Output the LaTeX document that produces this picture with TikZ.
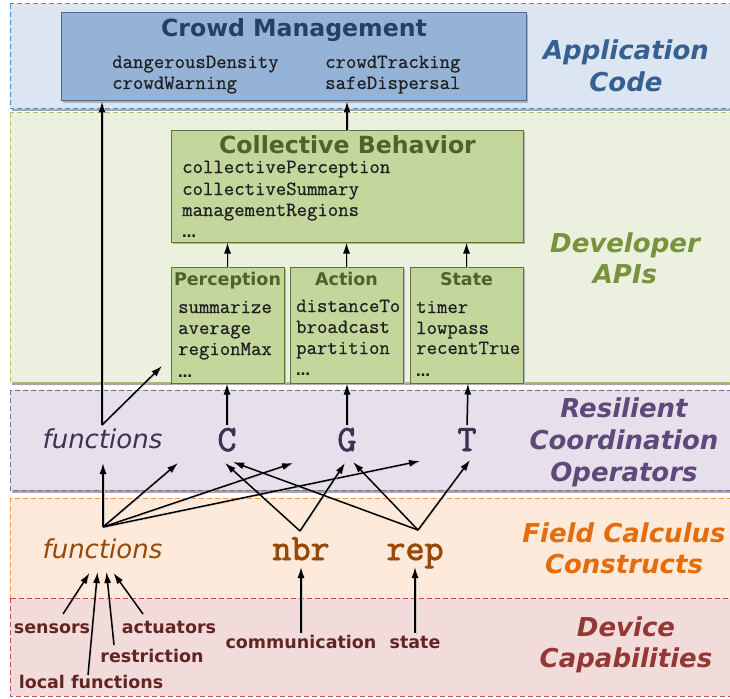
\documentclass[tikz,border=0pt]{standalone}
\usepackage{fontspec}
\setmainfont{DejaVu Sans}
\newfontfamily\opfont{Latin Modern Mono}[FakeBold=2.2]
\newfontfamily\itemfont{Latin Modern Mono}[FakeBold=0.6]
\usetikzlibrary{arrows.meta,calc}
\definecolor{appFill}{HTML}{DCE6F2}
\definecolor{appLine}{HTML}{558ED5}
\definecolor{appText}{HTML}{376092}
\definecolor{devFill}{HTML}{EBF1DE}
\definecolor{devLine}{HTML}{A9C46A}
\definecolor{devText}{HTML}{77933C}
\definecolor{resFill}{HTML}{E5E0EC}
\definecolor{resLine}{HTML}{8064A2}
\definecolor{resText}{HTML}{5F497A}
\definecolor{resDark}{HTML}{403152}
\definecolor{fcFill}{HTML}{FDEADA}
\definecolor{fcLine}{HTML}{F79646}
\definecolor{fcText}{HTML}{E46C0A}
\definecolor{fcDark}{HTML}{984807}
\definecolor{dvFill}{HTML}{F2DCDB}
\definecolor{dvLine}{HTML}{C0504D}
\definecolor{dvText}{HTML}{953735}
\definecolor{dvDark}{HTML}{632523}
\definecolor{crowdFill}{HTML}{95B3D7}
\definecolor{crowdLine}{HTML}{4A6890}
\definecolor{crowdText}{HTML}{254061}
\definecolor{grFill}{HTML}{C3D69B}
\definecolor{grLine}{HTML}{5E7535}
\definecolor{grText}{HTML}{4F6228}
\tikzset{
  bandbox/.style={line width=1pt, dash pattern=on 5pt off 3pt},
  bandshadow/.style={fill=black!35, draw=none},
  boxshape/.style={draw, line width=1pt, inner sep=0pt, rectangle},
  boxshadow/.style={fill=black!30, draw=none},
  bigtitle/.style={font=\bfseries\fontsize{23.6}{28}\selectfont, anchor=base, inner sep=0pt},
  smalltitle/.style={font=\bfseries\fontsize{17.5}{21}\selectfont, text=grText, anchor=base, inner sep=0pt},
  mono/.style={font=\itemfont\fontsize{20.2}{21}\selectfont, anchor=base west, inner sep=0pt, text=black!88},
  dots/.style={font=\bfseries\fontsize{14}{14}\selectfont, anchor=base west, inner sep=0pt, text=black!88},
  sidelabel/.style={font=\bfseries\itshape\fontsize{26}{32}\selectfont, anchor=base, inner sep=0pt},
  fnlabel/.style={font=\itshape\fontsize{26}{32}\selectfont, anchor=base, inner sep=0pt},
  oplabel/.style={font=\opfont\fontsize{37}{40}\selectfont, anchor=base, inner sep=0pt},
  caplabel/.style={font=\bfseries\fontsize{17.5}{21}\selectfont, text=dvDark, anchor=base, inner sep=0pt},
  arr/.style={-{Latex[length=11pt,width=7pt]}, line width=1.5pt,
    preaction={draw=black!22, transform canvas={shift={(1pt,-1pt)}}}},
}
\begin{document}
\begin{tikzpicture}[x=1pt,y=-1pt]
\useasboundingbox (0,0) rectangle (730,698);
% bands
\fill[bandshadow] (12,6) rectangle (737,111);
\filldraw[bandbox, fill=appFill, draw=appLine] (10,4) rectangle (735,109);
\fill[bandshadow] (12,115) rectangle (737,385);
\filldraw[bandbox, fill=devFill, draw=devLine] (10,113) rectangle (735,382);
\fill[bandshadow] (12,392) rectangle (737,493);
\filldraw[bandbox, fill=resFill, draw=resLine] (10,390) rectangle (735,490);
\filldraw[bandbox, fill=fcFill, draw=fcLine] (10,498) rectangle (735,598);
\filldraw[bandbox, fill=dvFill, draw=dvLine] (10,598) rectangle (735,696);

% side labels
\node[sidelabel, text=appText] (appL1) at (626,60) {Application};
\node[sidelabel, text=appText] (appL2) at (626,92) {Code};
\node[sidelabel, text=devText] (devL1) at (625,252) {Developer};
\node[sidelabel, text=devText] (devL2) at (625,283) {APIs};
\node[sidelabel, text=resText] (resL1) at (624,417) {Resilient};
\node[sidelabel, text=resText] (resL2) at (624,449) {Coordination};
\node[sidelabel, text=resText] (resL3) at (624,481) {Operators};
\node[sidelabel, text=fcText] (fcL1) at (624,542) {Field Calculus};
\node[sidelabel, text=fcText] (fcL2) at (624,573) {Constructs};
\node[sidelabel, text=dvText] (dvL1) at (626,636) {Device};
\node[sidelabel, text=dvText] (dvL2) at (626,667) {Capabilities};

% Crowd Management box
\fill[boxshadow] (63,15) rectangle (528,103);
\node[boxshape, fill=crowdFill, draw=crowdLine, minimum width=465pt, minimum height=88pt] (crowd) at (293.5,57) {};
\node[bigtitle, text=crowdText] (crowdT) at (294,37) {Crowd Management};
\node[mono] (cm1) at (112,68) {dangerousDensity};
\node[mono] (cm2) at (112,89) {crowdWarning};
\node[mono] (cm3) at (325,68) {crowdTracking};
\node[mono] (cm4) at (325,89) {safeDispersal};

% Collective Behavior box
\fill[boxshadow] (173,132) rectangle (525,244);
\node[boxshape, fill=grFill, draw=grLine, minimum width=352pt, minimum height=112pt] (cb) at (347,186) {};
\node[bigtitle, text=grText] (cbT) at (347.5,153) {Collective Behavior};
\node[mono] (cb1) at (182,173) {collectivePerception};
\node[mono] (cb2) at (182,195) {collectiveSummary};
\node[mono] (cb3) at (182,216) {managementRegions};
\node[dots] (cb4) at (182,237) {…};

% Perception / Action / State boxes
\fill[boxshadow] (173,269) rectangle (286,385);
\node[boxshape, fill=grFill, draw=grLine, minimum width=113pt, minimum height=116pt] (perc) at (227.5,325) {};
\fill[boxshadow] (292,269) rectangle (405,385);
\node[boxshape, fill=grFill, draw=grLine, minimum width=113pt, minimum height=116pt] (act) at (346.5,325) {};
\fill[boxshadow] (412,269) rectangle (525,385);
\node[boxshape, fill=grFill, draw=grLine, minimum width=113pt, minimum height=116pt] (state) at (466.5,325) {};
\node[smalltitle] (percT) at (227.5,285) {Perception};
\node[smalltitle] (actT) at (346.5,285) {Action};
\node[smalltitle] (stateT) at (466.5,285) {State};
\node[mono] (p1) at (178,313) {summarize};
\node[mono] (p2) at (178,334) {average};
\node[mono] (p3) at (178,355) {regionMax};
\node[dots] (p4) at (178,377) {…};
\node[mono] (a1) at (296,312) {distanceTo};
\node[mono] (a2) at (296,333) {broadcast};
\node[mono] (a3) at (296,354) {partition};
\node[dots] (a4) at (296,375) {…};
\node[mono] (s1) at (416,313) {timer};
\node[mono] (s2) at (416,334) {lowpass};
\node[mono] (s3) at (416,354) {recentTrue};
\node[dots] (s4) at (416,376) {…};

% Resilient coordination operators
\node[fnlabel, text=resDark] (fnR) at (102.5,448) {functions};
\node[oplabel, text=resDark] (opC) at (227,451) {C};
\node[oplabel, text=resDark] (opG) at (347,451) {G};
\node[oplabel, text=resDark] (opT) at (467,451) {T};

% Field calculus constructs
\node[fnlabel, text=fcDark] (fnF) at (102.5,558) {functions};
\node[oplabel, text=fcDark] (nbr) at (301,560) {nbr};
\node[oplabel, text=fcDark] (rep) at (415,560) {rep};

% Device capabilities
\node[caplabel] (sens) at (52,633) {sensors};
\node[caplabel] (actu) at (169,633) {actuators};
\node[caplabel] (restr) at (152,662) {restriction};
\node[caplabel] (locf) at (91,688) {local functions};
\node[caplabel] (comm) at (301,648) {communication};
\node[caplabel] (stat) at (415,648) {state};

% connector end points
\coordinate (fRs) at ($(fnR.base)+(-0.5,-23)$);
\coordinate (fFs) at ($(fnF.base)+(0.5,-31)$);
\coordinate (nbrS) at ($(nbr.base)+(-1,-29)$);
\coordinate (repS) at ($(rep.base)+(3,-30)$);
\coordinate (fRtip) at (162,366);
\coordinate (gap1) at (178,463);
\coordinate (gap2) at (293,463);
\coordinate (gap3) at (420,461);

% arrows in developer layer
\draw[arr] (perc.north) -- (perc.north |- cb.south);
\draw[arr] (act.north) -- (act.north |- cb.south);
\draw[arr] (state.north) -- (state.north |- cb.south);
\draw[arr] (cb.north) -- (cb.north |- crowd.south);

% operators to APIs
\draw[arr] (fRs) -- (fRs |- crowd.south);
\draw[arr] (fRs) -- (fRtip);
\draw[arr] ($(opC.base)+(0,-26)$) -- (opC.base |- perc.south);
\draw[arr] ($(opG.base)+(0,-26)$) -- (opG.base |- act.south);
\draw[arr] ($(opT.base)+(0,-26)$) -- ($(opT.base |- state.south)+(1,0)$);

% constructs to operators
\draw[arr] (fFs) -- ($(fnR.base)+(0.5,15)$);
\draw[arr] (fFs) -- (gap1);
\draw[arr] (fFs) -- (gap2);
\draw[arr] (fFs) -- (gap3);
\draw[arr] (nbrS) -- ($(opC.base)+(-2,12)$);
\draw[arr] (nbrS) -- ($(opG.base)+(-2,12)$);
\draw[arr] (repS) -- ($(opC.base)+(6,11)$);
\draw[arr] (repS) -- ($(opG.base)+(6,11)$);
\draw[arr] (repS) -- ($(opT.base)+(3,9)$);

% capabilities to constructs
\draw[arr] ($(sens.base)+(11,-19)$) -- ($(fnF.base)+(-13,15)$);
\draw[arr] ($(locf.base)+(-3,-13)$) -- ($(fnF.base)+(-5,14)$);
\draw[arr] ($(restr.base)+(-38,-17)$) -- ($(fnF.base)+(4,14)$);
\draw[arr] ($(actu.base)+(-26,-19)$) -- ($(fnF.base)+(11,15)$);
\draw[arr] ($(comm.base)+(0,-15)$) -- ($(nbr.base)+(0,7)$);
\draw[arr] ($(stat.base)+(0,-15)$) -- ($(rep.base)+(0,7)$);
\end{tikzpicture}
\end{document}
